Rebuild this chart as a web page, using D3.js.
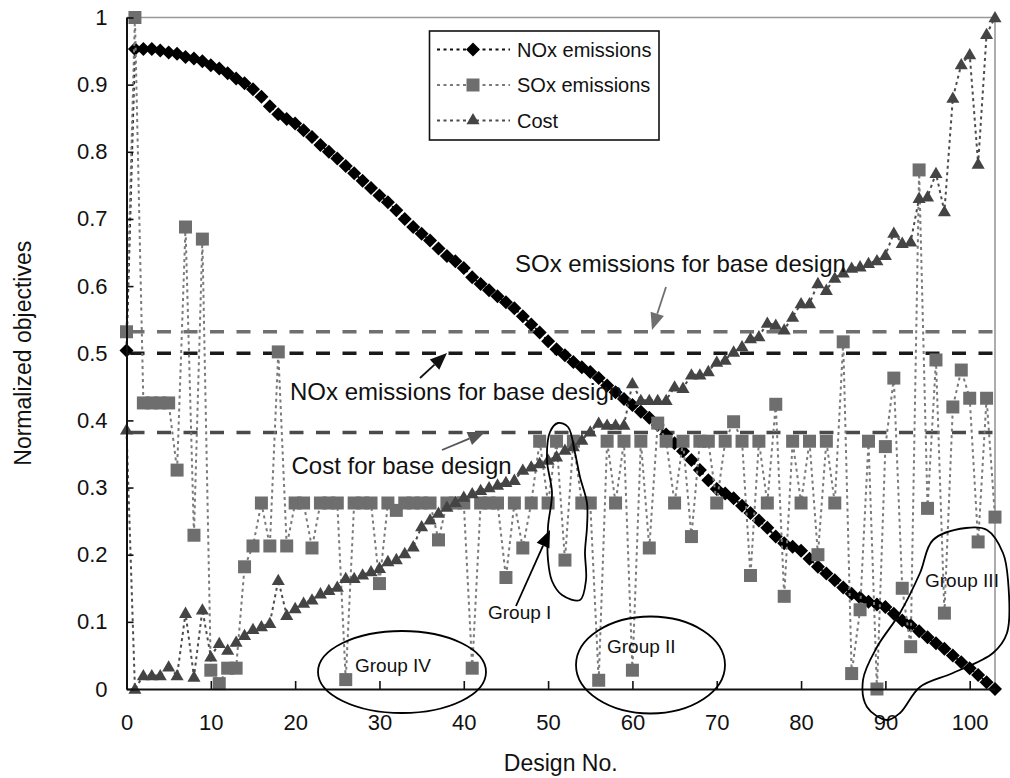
<!DOCTYPE html>
<html>
<head>
<meta charset="utf-8">
<script src="https://cdn.jsdelivr.net/npm/d3@7"></script>
<style>
  html, body { margin: 0; padding: 0; background: #fff; overflow: hidden; }
  svg { display: block; }
  svg text { font-family: "Liberation Sans", Arial, sans-serif; fill: #111; }
</style>
</head>
<body>
<div id="chart"></div>
<script>
// design number = array index (0 = base design)
var noxValues = [
  0.504,
  0.953,0.953,0.953,0.951,0.948,0.946,0.941,0.939,0.935,0.929,
  0.924,0.917,0.909,0.902,0.893,0.882,0.868,0.856,0.849,0.842,
  0.832,0.822,0.810,0.800,0.790,0.779,0.768,0.757,0.746,0.735,
  0.725,0.713,0.700,0.688,0.678,0.668,0.656,0.645,0.637,0.627,
  0.613,0.603,0.594,0.585,0.576,0.567,0.555,0.543,0.531,0.518,
  0.506,0.497,0.487,0.479,0.472,0.463,0.452,0.442,0.432,0.423,
  0.413,0.404,0.393,0.379,0.366,0.354,0.341,0.326,0.311,0.298,
  0.291,0.284,0.273,0.262,0.251,0.240,0.227,0.217,0.212,0.206,
  0.194,0.182,0.172,0.162,0.151,0.142,0.136,0.130,0.126,0.122,
  0.112,0.102,0.095,0.086,0.077,0.068,0.060,0.050,0.040,0.031,
  0.021,0.010,0.000
];
var soxValues = [
  0.532,
  1.000,0.426,0.426,0.426,0.426,0.326,0.688,0.229,0.670,0.028,
  0.008,0.031,0.031,0.182,0.213,0.277,0.213,0.502,0.213,0.277,
  0.277,0.210,0.277,0.277,0.277,0.014,0.277,0.277,0.277,0.157,
  0.277,0.266,0.277,0.277,0.277,0.277,0.222,0.277,0.277,0.277,
  0.031,0.277,0.277,0.277,0.166,0.277,0.210,0.277,0.369,0.277,
  0.369,0.192,0.369,0.277,0.277,0.013,0.369,0.277,0.369,0.028,
  0.369,0.210,0.396,0.369,0.277,0.369,0.227,0.369,0.369,0.277,
  0.369,0.398,0.369,0.169,0.369,0.277,0.424,0.138,0.369,0.277,
  0.369,0.200,0.369,0.277,0.517,0.023,0.118,0.369,0.000,0.361,
  0.463,0.150,0.063,0.773,0.269,0.490,0.113,0.420,0.475,0.433,
  0.219,0.433,0.256
];
var costValues = [
  0.386,
  0.000,0.020,0.020,0.020,0.033,0.020,0.113,0.018,0.118,0.048,
  0.068,0.058,0.070,0.080,0.089,0.093,0.098,0.162,0.110,0.120,
  0.128,0.133,0.142,0.147,0.152,0.165,0.165,0.170,0.175,0.180,
  0.190,0.193,0.202,0.212,0.242,0.252,0.262,0.271,0.278,0.286,
  0.291,0.296,0.300,0.304,0.308,0.311,0.326,0.331,0.336,0.341,
  0.346,0.356,0.361,0.371,0.383,0.396,0.393,0.393,0.393,0.455,
  0.430,0.430,0.430,0.430,0.450,0.448,0.468,0.468,0.473,0.487,
  0.490,0.502,0.510,0.522,0.525,0.545,0.542,0.535,0.554,0.574,
  0.574,0.604,0.594,0.612,0.620,0.627,0.629,0.634,0.638,0.646,
  0.679,0.664,0.666,0.731,0.733,0.768,0.711,0.880,0.930,0.945,
  0.782,0.975,1.000
];
var baseLines = [
  {name: 'SOx', value: 0.532, color: '#6f6f6f'},
  {name: 'NOx', value: 0.500, color: '#1a1a1a'},
  {name: 'Cost', value: 0.382, color: '#4a4a4a'}
];
var xTicks = [0, 10, 20, 30, 40, 50, 60, 70, 80, 90, 100],
    yTicks = [0, 0.1, 0.2, 0.3, 0.4, 0.5, 0.6, 0.7, 0.8, 0.9, 1];
var xMax = 103;

var width = 1010,
    height = 778,
    margin = {top: 17.5, right: 15, bottom: 89, left: 126.5},
    innerWidth = width - margin.left - margin.right,
    innerHeight = height - margin.top - margin.bottom;

var xScale = d3.scaleLinear().domain([0, xMax]).range([0, innerWidth]),
    yScale = d3.scaleLinear().domain([0, 1]).range([innerHeight, 0]);

var series = [
  {name: 'NOx emissions', values: noxValues, fill: '#000', line: '#111', type: 'diamond'},
  {name: 'SOx emissions', values: soxValues, fill: '#6e6e6e', line: '#7a7a7a', type: 'square'},
  {name: 'Cost', values: costValues, fill: '#444', line: '#4c4c4c', type: 'triangle'}
];

var symbolDiamond = {
  draw: function(ctx, size) {
    var r = Math.sqrt(size) / 2;
    ctx.moveTo(0, -r); ctx.lineTo(r, 0); ctx.lineTo(0, r); ctx.lineTo(-r, 0); ctx.closePath();
  }
};
function symbolPath(type) {
  if (type === 'diamond') return d3.symbol().type(symbolDiamond).size(14 * 14)();
  if (type === 'square') return d3.symbol().type(d3.symbolSquare).size(13 * 13)();
  return d3.symbol().type(d3.symbolTriangle).size(74)();
}

var svg = d3.select("#chart").append("svg")
    .attr("width", width)
    .attr("height", height);
svg.append("rect").attr("width", width).attr("height", height).attr("fill", "#fff");

var g = svg.append("g")
    .attr("transform", "translate(" + margin.left + "," + margin.top + ")");

// frame: grey top and right edges
g.append("path")
  .attr("d", "M0,0H" + innerWidth + "V" + innerHeight)
  .attr("fill", "none")
  .attr("stroke", "#999")
  .attr("stroke-width", 1.6);

// base design reference lines
g.selectAll(".base")
  .data(baseLines).enter()
  .append("line")
    .attr("class", "base")
    .attr("x1", xScale(0)).attr("x2", xScale(xMax))
    .attr("y1", function(d){ return yScale(d.value); })
    .attr("y2", function(d){ return yScale(d.value); })
    .attr("stroke", function(d){ return d.color; })
    .attr("stroke-width", 3.6)
    .attr("stroke-dasharray", "14,12.5")
    .attr("stroke-dashoffset", -4);

// annotation texts (sit under the markers in the original)
var notes = [
  {text: 'SOx emissions for base design', x: 515, y: 271.5},
  {text: 'NOx emissions for base design', x: 290, y: 400},
  {text: 'Cost for base design', x: 291.5, y: 474}
];
svg.selectAll(".note")
  .data(notes).enter()
  .append("text")
    .attr("class", "note")
    .attr("x", function(d){ return d.x; })
    .attr("y", function(d){ return d.y; })
    .style("font-size", "24px")
    .text(function(d){ return d.text; });

// series: dotted connecting line + markers
var line = d3.line()
  .x(function(d, i){ return xScale(i); })
  .y(function(d){ return yScale(d); });

series.forEach(function(s){
  var sg = g.append("g").attr("class", "series");
  sg.append("path")
    .attr("d", line(s.values))
    .attr("fill", "none")
    .attr("stroke", s.line)
    .attr("stroke-width", 2)
    .attr("stroke-dasharray", "3,3.5");
  sg.selectAll("path.mark")
    .data(s.values).enter()
    .append("path")
      .attr("class", "mark")
      .attr("transform", function(d, i){
        return "translate(" + xScale(i) + "," + (yScale(d) + (s.type === 'triangle' ? 1 : 0)) + ")";
      })
      .attr("d", symbolPath(s.type))
      .attr("fill", s.fill);
});

// axes
var yAxis = d3.axisLeft(yScale)
  .tickValues(yTicks)
  .tickFormat(function(d){ return d; })
  .tickSizeInner(-7)
  .tickSizeOuter(0)
  .tickPadding(19);
var xAxis = d3.axisBottom(xScale)
  .tickValues(xTicks)
  .tickFormat(function(d){ return d; })
  .tickSizeInner(-8)
  .tickSizeOuter(0)
  .tickPadding(25);

var gy = g.append("g").attr("class", "axis axis-y").call(yAxis);
var gx = g.append("g").attr("class", "axis axis-x")
  .attr("transform", "translate(0," + innerHeight + ")")
  .call(xAxis);
[gx, gy].forEach(function(ax){
  ax.attr("font-size", 22).attr("font-family", '"Liberation Sans", Arial, sans-serif');
  ax.select(".domain").attr("stroke", "#111").attr("stroke-width", 2);
  ax.selectAll(".tick line").attr("stroke", "#111").attr("stroke-width", 1.6);
  ax.selectAll(".tick text").attr("fill", "#111");
});

svg.append("text")
  .attr("x", margin.left + innerWidth / 2)
  .attr("y", 771)
  .attr("text-anchor", "middle")
  .style("font-size", "23px")
  .text("Design No.");
svg.append("text")
  .attr("transform", "translate(31," + (margin.top + innerHeight / 2) + ") rotate(-90)")
  .attr("text-anchor", "middle")
  .style("font-size", "23px")
  .text("Normalized objectives");

// legend
var legend = svg.append("g").attr("class", "legend");
legend.append("rect")
  .attr("x", 429.5).attr("y", 31)
  .attr("width", 229.5).attr("height", 109)
  .attr("fill", "#fff")
  .attr("stroke", "#111")
  .attr("stroke-width", 1.6);
var items = legend.selectAll(".item")
  .data(series).enter()
  .append("g")
    .attr("class", "item")
    .attr("transform", function(d, i){ return "translate(0," + [49.5, 85, 120.5][i] + ")"; });
items.append("line")
  .attr("x1", 437).attr("x2", 510)
  .attr("stroke", function(d){ return d.line; })
  .attr("stroke-width", 2)
  .attr("stroke-dasharray", "3,3.5");
items.append("path")
  .attr("transform", "translate(473,0)")
  .attr("d", function(d){ return symbolPath(d.type); })
  .attr("fill", function(d){ return d.fill; });
items.append("text")
  .attr("x", 517).attr("y", 7)
  .style("font-size", "20px")
  .text(function(d){ return d.name; });

// arrows
function arrow(x1, y1, x2, y2, color) {
  var ang = Math.atan2(y2 - y1, x2 - x1),
      len = 17, hw = 7,
      bx = x2 - len * Math.cos(ang), by = y2 - len * Math.sin(ang);
  svg.append("line")
    .attr("x1", x1).attr("y1", y1).attr("x2", bx).attr("y2", by)
    .attr("stroke", color).attr("stroke-width", 1.8);
  svg.append("path")
    .attr("d", "M" + x2 + "," + y2 +
      "L" + (bx + hw * Math.sin(ang)) + "," + (by - hw * Math.cos(ang)) +
      "L" + (bx - hw * Math.sin(ang)) + "," + (by + hw * Math.cos(ang)) + "Z")
    .attr("fill", color);
}
arrow(666, 287, 652, 330, '#6f6f6f');
arrow(420, 378, 447, 353, '#111');
arrow(442, 450, 485, 432, '#555');
arrow(516, 606, 550, 530, '#000');

// group outlines
var blob = d3.line().curve(d3.curveCatmullRomClosed);
var groupOne = [[558,423],[568,427],[575,453],[580,477],[587,503],[587,527],[585,552],
                [586,580],[580,600],[562,595],[552,581],[548,560],[548,527],[552,493],
                [547,460],[550,432]];
var groupThree = [[966,528],[933,540],[920,573],[900,613],[877,647],[863,680],[867,707],
                  [887,720],[900,713],[920,687],[953,673],[993,653],[1007,633],[1008,580],
                  [1003,553],[987,530]];
svg.append("path").attr("d", blob(groupOne))
  .attr("fill", "none").attr("stroke", "#000").attr("stroke-width", 1.8);
svg.append("path").attr("d", blob(groupThree))
  .attr("fill", "none").attr("stroke", "#000").attr("stroke-width", 1.8);
svg.append("ellipse")
  .attr("cx", 402).attr("cy", 672).attr("rx", 84).attr("ry", 41)
  .attr("fill", "none").attr("stroke", "#000").attr("stroke-width", 1.8);
svg.append("ellipse")
  .attr("cx", 650.5).attr("cy", 665).attr("rx", 74.5).attr("ry", 48.5)
  .attr("fill", "none").attr("stroke", "#000").attr("stroke-width", 1.8);

var groupLabels = [
  {text: 'Group I', x: 488, y: 619},
  {text: 'Group II', x: 607, y: 653},
  {text: 'Group III', x: 925, y: 587},
  {text: 'Group IV', x: 355, y: 672}
];
svg.selectAll(".glabel")
  .data(groupLabels).enter()
  .append("text")
    .attr("class", "glabel")
    .attr("x", function(d){ return d.x; })
    .attr("y", function(d){ return d.y; })
    .style("font-size", "19px")
    .text(function(d){ return d.text; });
</script>
</body>
</html>
